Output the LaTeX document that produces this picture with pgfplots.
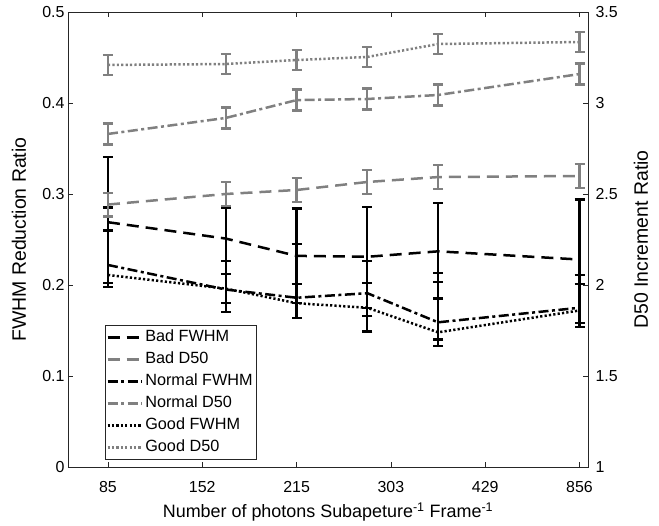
\documentclass[border=0pt]{standalone}
\usepackage{pgfplots}
\usepackage{pgfplotstable}
\pgfplotsset{compat=1.18}
\usepackage{fontspec}
\setmainfont{Liberation Sans}
\definecolor{axgray}{RGB}{38,38,38}
\definecolor{lgray}{RGB}{128,128,128}

% x positions: evenly spaced tick index (85,152,215,303,429,856 ticks at 0..5)
\pgfplotstableread{
x     y      ep     em
0     0.269  0.072  0.071
1.25  0.251  0.034  0.025
2     0.232  0.052  0.052
2.75  0.231  0.055  0.056
3.5   0.237  0.053  0.052
5     0.228  0.066  0.070
}\badF
\pgfplotstableread{
x     y      ep     em
0     0.222  0.038  0.024
1.25  0.195  0.031  0.025
2     0.186  0.059  0.022
2.75  0.191  0.035  0.025
3.5   0.159  0.054  0.026
5     0.175  0.026  0.021
}\normF
\pgfplotstableread{
x     y      ep     em
0     0.211  0.074  0.009
1.25  0.196  0.016  0.016
2     0.180  0.021  0.016
2.75  0.175  0.027  0.026
3.5   0.148  0.055  0.008
5     0.172  0.039  0.018
}\goodF
\pgfplotstableread{
x     y      e
0     2.442  0.065
1.25  2.500  0.065
2     2.522  0.065
2.75  2.566  0.065
3.5   2.593  0.065
5     2.599  0.065
}\badD
\pgfplotstableread{
x     y      e
0     2.830  0.058
1.25  2.918  0.058
2     3.016  0.058
2.75  3.022  0.058
3.5   3.044  0.058
5     3.159  0.058
}\normD
\pgfplotstableread{
x     y      e
0     3.209  0.055
1.25  3.214  0.055
2     3.236  0.055
2.75  3.253  0.055
3.5   3.324  0.055
5     3.335  0.055
}\goodD

\pgfplotsset{
  badsty/.style={line width=2.5bp, dash pattern=on 12bp off 7bp},
  normsty/.style={line width=2.5bp, dash pattern=on 10bp off 3.5bp on 3bp off 3.5bp},
  goodsty/.style={line width=2.5bp, dash pattern=on 2.2bp off 2.2bp},
  ebar/.style={error bars/.cd, y dir=both, y explicit,
    error bar style={solid, line width=2.3bp},
    error mark options={rotate=90, mark size=5bp, line width=2.3bp, solid}},
  common/.style={
    scale only axis, width=520bp, height=455bp,
    xmin=-0.424, xmax=5.09,
    tick align=inside, major tick length=5bp,
    axis line style={axgray, line width=0.6bp},
    tick style={axgray, line width=0.6bp},
    tick label style={font=\fontsize{16}{19}\selectfont, text=black},
    label style={font=\fontsize{19.5}{22}\selectfont, text=black},
    /pgf/number format/assume math mode=true,
  },
}

\begin{document}
\begin{tikzpicture}
\begin{axis}[common,
  ymin=0, ymax=0.5,
  xtick={0,1,2,3,4,5}, xticklabels={85,152,215,303,429,856},
  ytick={0,0.1,0.2,0.3,0.4,0.5},
  xtick pos=both, ytick pos=left,
  xticklabel style={yshift=-11bp},
  xlabel={Number of photons Subapeture\textsuperscript{-1} Frame\textsuperscript{-1}},
  xlabel style={font=\fontsize{18}{21}\selectfont, yshift=-3bp},
  ylabel={FWHM Reduction Ratio},
  ylabel style={at={(axis description cs:-0.0942,0.5)}, anchor=center},
]
\coordinate (sw) at (rel axis cs:0,0);
\addplot[black, badsty, ebar] table[x=x, y=y, y error plus=ep, y error minus=em]{\badF};
\addplot[black, normsty, ebar] table[x=x, y=y, y error plus=ep, y error minus=em]{\normF};
\addplot[black, goodsty, ebar] table[x=x, y=y, y error plus=ep, y error minus=em]{\goodF};
\end{axis}
\begin{axis}[common,
  ymin=1, ymax=3.5,
  axis x line=none, axis y line*=right,
  ytick={1,1.5,2,2.5,3,3.5},
  yticklabel style={xshift=4bp},
  ylabel={D50 Increment Ratio},
  ylabel style={at={(axis description cs:1.102,0.5)}, anchor=center},
  legend style={at={(axis description cs:0.0712,0.0154)}, anchor=south west,
    draw=axgray, line width=0.6bp, fill=white,
    font=\fontsize{16.3}{19}\selectfont, inner sep=1bp,
    nodes={inner sep=2.5bp, text height=12bp, text depth=5bp}},
  legend cell align=left,
  legend image code/.code={\draw (0bp,0bp) -- (34bp,0bp);},
]
\addlegendimage{black, badsty}
\addlegendentry{Bad FWHM}
\addplot[lgray, badsty, ebar] table[x=x, y=y, y error=e]{\badD};
\addlegendentry{Bad D50}
\addlegendimage{black, normsty}
\addlegendentry{Normal FWHM}
\addplot[lgray, normsty, ebar] table[x=x, y=y, y error=e]{\normD};
\addlegendentry{Normal D50}
\addlegendimage{black, goodsty}
\addlegendentry{Good FWHM}
\addplot[lgray, goodsty, ebar] table[x=x, y=y, y error=e]{\goodD};
\addlegendentry{Good D50}
\end{axis}
\pgfresetboundingbox
\path[use as bounding box] (sw) ++(-68bp,-59bp) rectangle ++(659bp,526bp);
\end{tikzpicture}
\end{document}
